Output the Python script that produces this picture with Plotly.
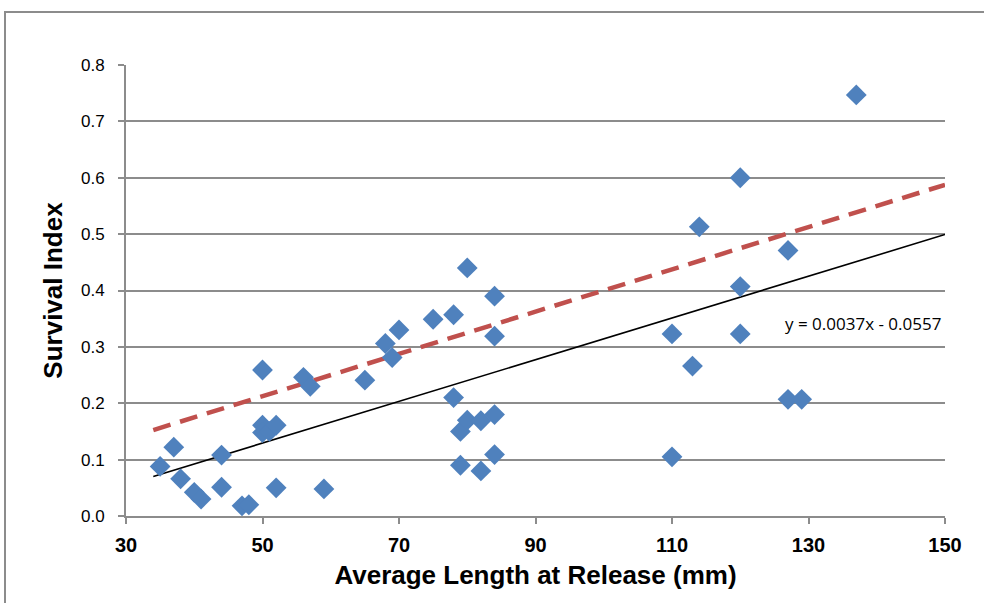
import plotly.graph_objects as go

# Data
length_mm = [35, 37, 38, 40, 41, 44, 44, 47, 48, 50, 50, 50, 51, 52, 52, 56, 57, 59,
             65, 68, 69, 70, 75, 78, 78, 79, 79, 80, 80, 82, 82, 84, 84, 84, 84,
             110, 110, 113, 114, 120, 120, 120, 127, 127, 129, 137]
survival = [0.088, 0.122, 0.066, 0.042, 0.030, 0.108, 0.051, 0.018, 0.020, 0.259, 0.161, 0.148,
            0.150, 0.161, 0.050, 0.246, 0.230, 0.048, 0.241, 0.306, 0.281, 0.330, 0.349,
            0.357, 0.210, 0.150, 0.090, 0.440, 0.170, 0.169, 0.080, 0.390, 0.319, 0.180,
            0.109, 0.323, 0.105, 0.266, 0.513, 0.600, 0.407, 0.323, 0.471, 0.207, 0.207, 0.747]

# Linear trendline (black) from the equation label
trend_slope = 0.0037
trend_intercept = -0.0557
trend_x = [34, 150]

# Red dashed reference line
ref_slope = 0.00375
ref_intercept = 0.025
ref_x = [34, 150]

x_ticks = [30, 50, 70, 90, 110, 130, 150]
y_ticks = [0.0, 0.1, 0.2, 0.3, 0.4, 0.5, 0.6, 0.7, 0.8]

GRAY = "#8c8c8c"
FONT = "Liberation Sans, Arial, sans-serif"

fig = go.Figure()

fig.add_trace(go.Scatter(
    x=ref_x, y=[ref_slope * v + ref_intercept for v in ref_x],
    mode="lines", line=dict(color="#C0504D", width=4.5, dash="18px,10px"),
    hoverinfo="skip", showlegend=False))

fig.add_trace(go.Scatter(
    x=trend_x, y=[trend_slope * v + trend_intercept for v in trend_x],
    mode="lines", line=dict(color="black", width=1.6),
    hoverinfo="skip", showlegend=False))

fig.add_trace(go.Scatter(
    x=length_mm, y=survival, mode="markers",
    marker=dict(symbol="diamond", size=16, color="#4F81BD", line=dict(width=0)),
    showlegend=False))

fig.add_annotation(x=138.0, y=0.342, xref="x", yref="y",
                   text="y = 0.0037x - 0.0557", showarrow=False,
                   font=dict(family="Open Sans, Liberation Sans, sans-serif", size=17, color="black"))

# Outer chart border
fig.add_shape(type="rect", xref="paper", yref="paper",
              x0=(5 - 126) / 819, x1=(1010 - 126) / 819,
              y0=(516 - 620) / 451, y1=(516 - 12) / 451,
              line=dict(color=GRAY, width=2), fillcolor="rgba(0,0,0,0)", layer="below")

fig.update_layout(
    width=984, height=603,
    margin=dict(l=126, r=39, t=65, b=87),
    paper_bgcolor="white", plot_bgcolor="white",
    font=dict(family=FONT, color="black"),
    xaxis=dict(range=[30, 150], tickvals=x_ticks, ticktext=[str(v) for v in x_ticks],
               showgrid=False, zeroline=False, showline=True, linecolor=GRAY, linewidth=2,
               ticks="outside", ticklen=6, tickcolor=GRAY, tickwidth=2,
               tickfont=dict(family=FONT, size=20, color="black", weight="bold"),
               ticklabelstandoff=4,
               title=dict(text="Average Length at Release (mm)",
                          font=dict(family=FONT, size=26, color="black", weight="bold"),
                          standoff=11)),
    yaxis=dict(range=[0, 0.8], tickvals=y_ticks, tickformat=".1f",
               showgrid=True, gridcolor=GRAY, gridwidth=2, zeroline=False,
               showline=True, linecolor=GRAY, linewidth=2,
               ticks="outside", ticklen=6, tickcolor=GRAY, tickwidth=2,
               tickfont=dict(family=FONT, size=17, color="black"),
               ticklabelstandoff=10,
               title=dict(text="Survival Index",
                          font=dict(family=FONT, size=26, color="black", weight="bold"),
                          standoff=11)),
)

fig.write_html("out.html")
